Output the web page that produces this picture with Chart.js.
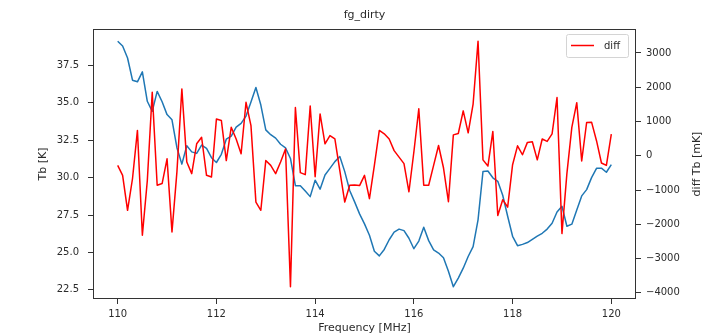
<!DOCTYPE html>
<html>
<head>
<meta charset="utf-8">
<script src="https://cdn.jsdelivr.net/npm/chart.js@4.4.0/dist/chart.umd.min.js"></script>
<style>
  html, body { margin: 0; padding: 0; background: #fff; }
  #wrap { width: 716px; height: 336px; position: relative; }
</style>
</head>
<body>
<div id="wrap"><canvas id="fg_dirty"></canvas></div>
<script>
// sweep frequencies [MHz]
const freq = [
  110.0, 110.1, 110.2, 110.3, 110.4, 110.5, 110.6, 110.7, 110.8, 110.9,
  111.0, 111.1, 111.2, 111.3, 111.4, 111.5, 111.6, 111.7, 111.8, 111.9,
  112.0, 112.1, 112.2, 112.3, 112.4, 112.5, 112.6, 112.7, 112.8, 112.9,
  113.0, 113.1, 113.2, 113.3, 113.4, 113.5, 113.6, 113.7, 113.8, 113.9,
  114.0, 114.1, 114.2, 114.3, 114.4, 114.5, 114.6, 114.7, 114.8, 114.9,
  115.0, 115.1, 115.2, 115.3, 115.4, 115.5, 115.6, 115.7, 115.8, 115.9,
  116.0, 116.1, 116.2, 116.3, 116.4, 116.5, 116.6, 116.7, 116.8, 116.9,
  117.0, 117.1, 117.2, 117.3, 117.4, 117.5, 117.6, 117.7, 117.8, 117.9,
  118.0, 118.1, 118.2, 118.3, 118.4, 118.5, 118.6, 118.7, 118.8, 118.9,
  119.0, 119.1, 119.2, 119.3, 119.4, 119.5, 119.6, 119.7, 119.8, 119.9,
  120.0
];

// brightness temperature [K], left axis
const tb = [
  39.11, 38.79, 37.99, 36.51, 36.40, 37.07, 35.10, 34.43, 35.76, 35.07,
  34.21, 33.86, 32.00, 30.90, 32.13, 31.72, 31.62, 32.17, 31.95, 31.33,
  31.01, 31.56, 32.57, 32.77, 33.37, 33.62, 34.11, 35.05, 36.02, 34.85,
  33.19, 32.87, 32.64, 32.23, 31.99, 31.28, 29.46, 29.46, 29.11, 28.73,
  29.83, 29.23, 30.18, 30.62, 31.07, 31.41, 30.40, 29.14, 28.38, 27.58,
  26.91, 26.15, 25.08, 24.77, 25.20, 25.85, 26.36, 26.56, 26.46, 25.95,
  25.25, 25.76, 26.68, 25.79, 25.17, 24.96, 24.65, 23.74, 22.71, 23.29,
  23.95, 24.73, 25.39, 27.18, 30.41, 30.44, 29.99, 29.75, 28.82, 27.42,
  26.08, 25.45, 25.54, 25.66, 25.88, 26.09, 26.28, 26.56, 26.95, 27.70,
  28.09, 26.75, 26.89, 27.84, 28.78, 29.20, 30.00, 30.62, 30.63, 30.36,
  30.87
];

// difference [mK], right axis
const diff = [
  -280, -570, -1590, -670, 740, -2320, -730, 1850, -860, -810,
  -90, -2220, -470, 1950, -180, -520, 350, 540, -570, -620,
  1070, 1030, -140, 830, 490, 60, 1560, 880, -1350, -1590,
  -140, -280, -520, -180, 200, -3820, 1410, -490, -550, 1450,
  -610, 1220, 350, 590, 490, -430, -1350, -860, -850, -870,
  -570, -1250, -280, 740, 640, 490, 150, -40, -230, -1050,
  110, 1370, -860, -860, -280, 300, -350, -1340, 610, 650,
  1310, 670, 1510, 3340, -120, -300, 710, -1740, -1280, -1500,
  -260, 290, 30, 390, 410, -120, 490, 420, 640, 1700,
  -2270, -520, 830, 1550, -150, 970, 980, 440, -210, -280,
  630
];

const freqTicks = [110, 112, 114, 116, 118, 120];
const tbTicks = [22.5, 25.0, 27.5, 30.0, 32.5, 35.0, 37.5];
const diffTicks = [-4000, -3000, -2000, -1000, 0, 1000, 2000, 3000];

const FONT = 'DejaVu Sans';
const INK = '#2b2b2b';

function toPoints(xs, ys) {
  return xs.map((x, i) => ({ x: x, y: ys[i] }));
}

function padRange(vals, frac) {
  const lo = Math.min(...vals), hi = Math.max(...vals);
  const m = (hi - lo) * frac;
  return [lo - m, hi + m];
}

const tbRange = padRange(tb, 0.05);
const diffRange = padRange(diff, 0.05);
const freqRange = padRange(freq, 0.05);

// frame, legend and the text around the axes
const decorations = {
  id: 'decorations',
  afterDatasetsDraw(chart) {
    const ctx = chart.ctx;
    const a = chart.chartArea;
    ctx.save();
    ctx.strokeStyle = '#333';
    ctx.lineWidth = 1;
    ctx.strokeRect(a.left + 0.5, a.top + 0.5, a.right - a.left - 1, a.bottom - a.top - 1);

    // legend box, upper right
    const bx = 566, by = 34, bw = 62, bh = 23;
    ctx.fillStyle = 'rgba(255,255,255,0.8)';
    ctx.strokeStyle = '#d4d4d4';
    ctx.beginPath();
    ctx.roundRect(bx + 0.5, by + 0.5, bw, bh, 2);
    ctx.fill();
    ctx.stroke();
    ctx.strokeStyle = 'red';
    ctx.lineWidth = 1.5;
    ctx.beginPath();
    ctx.moveTo(bx + 5, by + 11.5);
    ctx.lineTo(bx + 28, by + 11.5);
    ctx.stroke();
    ctx.fillStyle = INK;
    ctx.font = '10px "' + FONT + '"';
    ctx.textAlign = 'left';
    ctx.textBaseline = 'middle';
    ctx.fillText('diff', bx + 38, by + 12);
    ctx.restore();
  },
  afterDraw(chart) {
    const ctx = chart.ctx;
    const a = chart.chartArea;
    const cx = (a.left + a.right) / 2;
    const cy = (a.top + a.bottom) / 2;
    ctx.save();
    ctx.fillStyle = INK;
    ctx.textAlign = 'center';
    ctx.textBaseline = 'middle';

    ctx.font = '11px "' + FONT + '"';
    ctx.fillText('fg_dirty', cx, 15);

    ctx.fillText('Frequency [MHz]', cx, 328);

    ctx.save();
    ctx.translate(43, cy);
    ctx.rotate(-Math.PI / 2);
    ctx.fillText('Tb [K]', 0, 0);
    ctx.restore();

    ctx.save();
    ctx.translate(697, cy);
    ctx.rotate(-Math.PI / 2);
    ctx.fillText('diff Tb [mK]', 0, 0);
    ctx.restore();

    ctx.restore();
  }
};

function fixedTicks(values) {
  return function (scale) {
    scale.ticks = values.map(v => ({ value: v }));
  };
}

const tickGrid = {
  display: true,
  drawOnChartArea: false,
  drawTicks: true,
  tickLength: 5,
  tickWidth: 1,
  color: '#333'
};

new Chart(document.getElementById('fg_dirty'), {
  type: 'line',
  data: {
    datasets: [
      {
        label: 'diff',
        data: toPoints(freq, diff),
        yAxisID: 'yDiff',
        borderColor: 'red',
        borderWidth: 1.5,
        borderJoinStyle: 'round',
        pointRadius: 0,
        tension: 0,
        order: 0
      },
      {
        label: 'Tb',
        data: toPoints(freq, tb),
        yAxisID: 'yTb',
        borderColor: '#1f77b4',
        borderWidth: 1.5,
        borderJoinStyle: 'round',
        pointRadius: 0,
        tension: 0,
        order: 1
      }
    ]
  },
  options: {
    responsive: true,
    maintainAspectRatio: false,
    animation: false,
    layout: { padding: { top: 29, left: 0, right: 0, bottom: 0 } },
    plugins: {
      legend: { display: false },
      title: { display: false },
      tooltip: { enabled: false }
    },
    scales: {
      x: {
        type: 'linear',
        position: 'bottom',
        min: freqRange[0],
        max: freqRange[1],
        afterBuildTicks: fixedTicks(freqTicks),
        afterFit(scale) { scale.height = 37; },
        grid: tickGrid,
        border: { display: false },
        ticks: {
          padding: 4,
          color: INK,
          font: { family: FONT, size: 10 },
          maxRotation: 0,
          callback: v => String(v)
        }
      },
      yTb: {
        type: 'linear',
        position: 'left',
        min: tbRange[0],
        max: tbRange[1],
        afterBuildTicks: fixedTicks(tbTicks),
        afterFit(scale) { scale.width = 93; },
        grid: tickGrid,
        border: { display: false },
        ticks: {
          padding: 9,
          color: INK,
          font: { family: FONT, size: 10 },
          callback: v => v.toFixed(1)
        }
      },
      yDiff: {
        type: 'linear',
        position: 'right',
        min: diffRange[0],
        max: diffRange[1],
        afterBuildTicks: fixedTicks(diffTicks),
        afterFit(scale) { scale.width = 80; },
        grid: tickGrid,
        border: { display: false },
        ticks: {
          padding: 5,
          color: INK,
          font: { family: FONT, size: 10 },
          callback: v => (v < 0 ? '\u2212' + Math.abs(v) : String(v))
        }
      }
    }
  },
  plugins: [decorations]
});
</script>
</body>
</html>
